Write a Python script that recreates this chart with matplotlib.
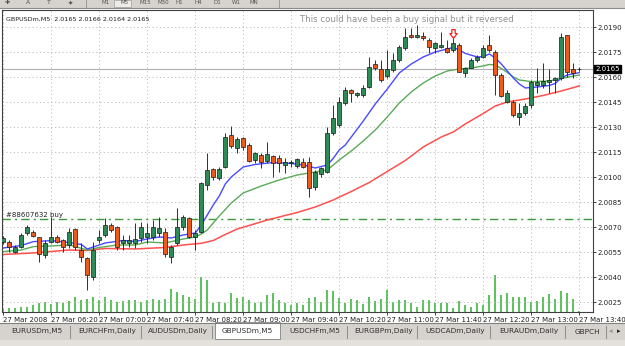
import matplotlib
matplotlib.use("Agg")
import matplotlib.pyplot as plt
import numpy as np
from matplotlib.patches import Rectangle
from matplotlib.path import Path

# ---------------- data ----------------
symbol = "GBPUSDm,M5"
header_vals = "2.0165 2.0166 2.0164 2.0165"
note = "This could have been a buy signal but it reversed"
order_label = "#88607632 buy"
order_price = 2.0075
bid_price = 2.0165

opens = [2.00612, 2.00614, 2.00554, 2.00584, 2.00664, 2.00674, 2.00642, 2.00534, 2.00612, 2.00644,
         2.00624, 2.00594, 2.00690, 2.00564, 2.00516, 2.00404, 2.00624, 2.00654, 2.00714, 2.00702,
         2.00604, 2.00604, 2.00608, 2.00634, 2.00644, 2.00644, 2.00666, 2.00672, 2.00524, 2.00606,
         2.00704, 2.00754, 2.00644, 2.00674, 2.00954, 2.01050, 2.00994, 2.01064, 2.01254, 2.01174,
         2.01234, 2.01194, 2.01104, 2.01134, 2.01098, 2.01128, 2.01114, 2.01074, 2.01084, 2.01068,
         2.01094, 2.01094, 2.00944, 2.01020, 2.01034, 2.01264, 2.01314, 2.01444, 2.01524, 2.01494,
         2.01494, 2.01544, 2.01678, 2.01650, 2.01608, 2.01644, 2.01704, 2.01774, 2.01854, 2.01840,
         2.01848, 2.01824, 2.01774, 2.01784, 2.01774, 2.01764, 2.01794, 2.01624, 2.01658, 2.01704,
         2.01724, 2.01794, 2.01754, 2.01614, 2.01454, 2.01454, 2.01364, 2.01388, 2.01434, 2.01554,
         2.01554, 2.01574, 2.01584, 2.01594, 2.01854, 2.01648, 2.0165]
highs = [2.00648, 2.00624, 2.00594, 2.00664, 2.00714, 2.00684, 2.00644, 2.00624, 2.00764, 2.00654,
         2.00630, 2.00694, 2.00694, 2.00604, 2.00524, 2.00614, 2.00684, 2.00754, 2.00724, 2.00708,
         2.00654, 2.00654, 2.00724, 2.00734, 2.00724, 2.00744, 2.00764, 2.00696, 2.00594, 2.00814,
         2.00774, 2.00764, 2.00684, 2.00974, 2.01146, 2.01056, 2.01064, 2.01264, 2.01308, 2.01244,
         2.01244, 2.01204, 2.01154, 2.01144, 2.01214, 2.01134, 2.01134, 2.01114, 2.01104, 2.01114,
         2.01114, 2.01124, 2.01044, 2.01064, 2.01304, 2.01434, 2.01484, 2.01544, 2.01530, 2.01514,
         2.01554, 2.01724, 2.01704, 2.01704, 2.01764, 2.01744, 2.01794, 2.01894, 2.01894, 2.01914,
         2.01874, 2.01834, 2.01814, 2.01874, 2.01824, 2.01834, 2.01804, 2.01664, 2.01714, 2.01734,
         2.01794, 2.01854, 2.01764, 2.01624, 2.01524, 2.01464, 2.01444, 2.01444, 2.01584, 2.01654,
         2.01684, 2.01648, 2.01604, 2.01864, 2.01854, 2.01684, 2.0166]
lows = [2.00600, 2.00554, 2.00544, 2.00576, 2.00654, 2.00642, 2.00494, 2.00516, 2.00604, 2.00604,
        2.00554, 2.00574, 2.00564, 2.00494, 2.00324, 2.00384, 2.00604, 2.00644, 2.00674, 2.00564,
        2.00564, 2.00584, 2.00574, 2.00614, 2.00604, 2.00624, 2.00644, 2.00522, 2.00486, 2.00594,
        2.00684, 2.00634, 2.00564, 2.00664, 2.00924, 2.00984, 2.00984, 2.01054, 2.01176, 2.01144,
        2.01164, 2.01094, 2.01084, 2.01054, 2.01084, 2.01002, 2.01034, 2.01024, 2.01064, 2.01054,
        2.01054, 2.00884, 2.00924, 2.01004, 2.01024, 2.01254, 2.01304, 2.01434, 2.01454, 2.01480,
        2.01484, 2.01534, 2.01644, 2.01574, 2.01596, 2.01634, 2.01694, 2.01764, 2.01834, 2.01834,
        2.01824, 2.01744, 2.01744, 2.01774, 2.01744, 2.01754, 2.01630, 2.01604, 2.01654, 2.01694,
        2.01714, 2.01754, 2.01494, 2.01484, 2.01444, 2.01364, 2.01314, 2.01374, 2.01414, 2.01504,
        2.01534, 2.01504, 2.01504, 2.01584, 2.01604, 2.01594, 2.0164]
closes = [2.00636, 2.00580, 2.00584, 2.00654, 2.00704, 2.00648, 2.00540, 2.00606, 2.00644, 2.00614,
          2.00584, 2.00674, 2.00584, 2.00524, 2.00414, 2.00564, 2.00644, 2.00714, 2.00684, 2.00580,
          2.00624, 2.00624, 2.00628, 2.00704, 2.00664, 2.00704, 2.00696, 2.00540, 2.00582, 2.00702,
          2.00764, 2.00644, 2.00668, 2.00964, 2.01044, 2.01000, 2.01050, 2.01244, 2.01188, 2.01228,
          2.01184, 2.01098, 2.01144, 2.01094, 2.01138, 2.01088, 2.01088, 2.01094, 2.01090, 2.01108,
          2.01064, 2.00934, 2.01034, 2.01054, 2.01264, 2.01354, 2.01454, 2.01524, 2.01508, 2.01504,
          2.01534, 2.01664, 2.01658, 2.01584, 2.01648, 2.01704, 2.01784, 2.01844, 2.01844, 2.01854,
          2.01836, 2.01784, 2.01804, 2.01794, 2.01754, 2.01804, 2.01634, 2.01658, 2.01704, 2.01720,
          2.01774, 2.01764, 2.01614, 2.01488, 2.01504, 2.01374, 2.01388, 2.01428, 2.01574, 2.01574,
          2.01578, 2.01584, 2.01594, 2.01844, 2.01634, 2.01628, 2.0165]
volumes = [6, 8, 8, 10, 10, 14, 18, 20, 16, 20, 18, 22,
           30, 24, 27, 31, 24, 31, 24, 21, 22, 24, 25, 21, 24, 27, 24, 27, 47, 41, 34, 31, 27,
           70, 64, 18, 20, 18, 38, 28, 30, 24, 18, 20, 34, 38, 24, 18, 14, 18,
           15, 29, 30, 20, 45, 42, 29, 19, 27, 25, 17, 30, 22, 27, 45, 20, 25, 25, 19, 11,
           24, 25, 19, 19, 19, 8, 22, 14, 11, 19, 14, 35, 75, 34, 38, 30, 30, 30, 21, 23,
           30, 37, 27, 42, 38, 27, 3]

ma_fast_idx = [0, 3, 5, 8, 11, 13, 14, 15, 17, 20, 22, 24, 26, 28, 30, 32, 33, 34, 35, 36, 37, 38, 40, 42, 45, 48, 50,
               52, 54, 55, 56, 57, 58, 60, 62, 64, 66, 68, 70, 72, 74, 75, 76, 77, 79, 80, 81, 82, 83, 84, 85, 86,
               87, 89, 91, 92, 93, 94, 96]
ma_fast = [2.00576, 2.00591, 2.00614, 2.00620, 2.00609, 2.00597, 2.00570, 2.00582, 2.00606, 2.00621, 2.00615,
           2.00630, 2.00642, 2.00636, 2.00654, 2.00666, 2.00714, 2.00774, 2.00834, 2.00888, 2.00960, 2.01002,
           2.01062, 2.01077, 2.01089, 2.01083, 2.01074, 2.01056, 2.01074, 2.01114, 2.01164, 2.01194, 2.01242,
           2.01338, 2.01440, 2.01530, 2.01626, 2.01680, 2.01722, 2.01752, 2.01770, 2.01779, 2.01764, 2.01743,
           2.01722, 2.01724, 2.01740, 2.01716, 2.01680, 2.01638, 2.01596, 2.01560, 2.01536, 2.01542, 2.01551,
           2.01563, 2.01596, 2.01614, 2.01628]
ma_mid_idx = [0, 3, 5, 8, 11, 14, 16, 19, 22, 24, 27, 30, 32, 33, 34, 35, 36, 38, 40, 43, 46, 49, 52, 54, 55, 56,
              58, 60, 62, 64, 66, 68, 70, 72, 74, 76, 78, 80, 81, 82, 83, 84, 85, 86, 88, 91, 93, 96]
ma_mid = [2.00554, 2.00564, 2.00584, 2.00588, 2.00594, 2.00564, 2.00579, 2.00594, 2.00594, 2.00612, 2.00606,
          2.00630, 2.00642, 2.00660, 2.00684, 2.00726, 2.00768, 2.00846, 2.00906, 2.00948, 2.00984, 2.01014,
          2.01032, 2.01044, 2.01074, 2.01104, 2.01158, 2.01218, 2.01284, 2.01362, 2.01446, 2.01512, 2.01566,
          2.01608, 2.01638, 2.01650, 2.01656, 2.01668, 2.01677, 2.01674, 2.01653, 2.01629, 2.01602, 2.01584,
          2.01574, 2.01578, 2.01593, 2.01614]
ma_slow_idx = [0, 5, 11, 14, 17, 22, 27, 30, 33, 35, 37, 39, 41, 44, 47, 49, 52, 55, 58, 61, 64, 67, 70, 73, 75,
               77, 80, 82, 84, 87, 90, 93, 96]
ma_slow = [2.00537, 2.00546, 2.00564, 2.00561, 2.00573, 2.00570, 2.00579, 2.00594, 2.00604, 2.00621, 2.00657,
           2.00690, 2.00711, 2.00744, 2.00771, 2.00789, 2.00822, 2.00864, 2.00915, 2.00969, 2.01035, 2.01101,
           2.01182, 2.01242, 2.01272, 2.01320, 2.01383, 2.01428, 2.01452, 2.01470, 2.01491, 2.01518, 2.01548]

time_ticks = [0, 8, 16, 24, 32, 40, 48, 56, 64, 72, 80, 88, 96]
time_labels = ["27 Mar 2008", "27 Mar 06:20", "27 Mar 07:00", "27 Mar 07:40", "27 Mar 08:20",
               "27 Mar 09:00", "27 Mar 09:40", "27 Mar 10:20", "27 Mar 11:00", "27 Mar 11:40",
               "27 Mar 12:20", "27 Mar 13:00", "27 Mar 13:40"]
price_ticks = [2.0190, 2.0175, 2.0160, 2.0145, 2.0130, 2.0115, 2.0100, 2.0085, 2.0070, 2.0055, 2.0040, 2.0025]
signal_bar = 75
signal_price = 2.01860

tabs = ["EURUSDm,M5", "EURCHFm,Daily", "AUDUSDm,Daily", "GBPUSDm,M5", "USDCHFm,M5",
        "EURGBPm,Daily", "USDCADm,Daily", "EURAUDm,Daily", "GBPCH"]
toolbar_items = ["M1", "M5", "M15", "M30", "H1", "H4", "D1", "W1", "MN"]
toolbar_icons = ["\u271a", "A", "T", "\u2726"]

# ---------------- figure ----------------
W, H = 625, 346
fig = plt.figure(figsize=(W / 100, H / 100), dpi=100)
fig.patch.set_facecolor("white")
plt.rcParams["font.family"] = ["DejaVu Sans"]

def fx(px):
    return px / W

def fy(py):
    return 1 - py / H

# top toolbar strip and bottom tabs
bg = fig.add_axes([0, 0, 1, 1], zorder=-5)
bg.set_xlim(0, W)
bg.set_ylim(H, 0)
bg.axis("off")
bg.add_patch(Rectangle((0, 0), W, 8, facecolor="#d6d3ce", edgecolor="none"))
bg.plot([0, W], [8, 8], color="#8c8c8c", lw=0.8)
for k, ic in enumerate(toolbar_icons):
    bg.text(7 + 21 * k, 3, ic, fontsize=4.5, color="#505050", va="center", ha="center")
bg.plot([86, 86], [0, 7], color="#909090", lw=0.6)
bg.plot([279, 279], [0, 7], color="#909090", lw=0.6)
bg.add_patch(Rectangle((114, 0), 17, 7, facecolor="#eeece8", edgecolor="#a0a0a0", lw=0.5))
for k, item in enumerate(toolbar_items):
    bg.text(102 + 18.5 * k, 3, item, fontsize=4, color="#555555", va="center", ha="left")
bg.add_patch(Rectangle((0, 323), W, 23, facecolor="#d6d3ce", edgecolor="none"))
bg.plot([0, W], [323, 323], color="#808080", lw=0.8)
bg.add_patch(Rectangle((0, 340), W, 6, facecolor="#e4e1dc", edgecolor="none"))
tab_x = [3, 73, 144, 215, 283, 350, 420, 493, 568]
tab_w = [67, 68, 68, 65, 64, 67, 70, 72, 38]
for i, (t, x0, w) in enumerate(zip(tabs, tab_x, tab_w)):
    if t == symbol:
        bg.add_patch(Rectangle((x0, 322), w, 17, facecolor="white", edgecolor="#808080", lw=0.6))
    else:
        bg.plot([x0 + w, x0 + w], [326, 338], color="#808080", lw=0.6)
    bg.text(x0 + w / 2, 331.5, t, fontsize=5.3, color="#303030", ha="center", va="center")
bg.text(611, 331.5, "\u25c2", fontsize=5, color="#909090", ha="center", va="center")
bg.text(619, 331.5, "\u25b8", fontsize=5, color="#202020", ha="center", va="center")

# main chart axes
left_px, right_px, top_px, bot_px = 2, 593, 10, 312
ax = fig.add_axes([fx(left_px), fy(bot_px), fx(right_px - left_px), (bot_px - top_px) / H])
n = len(opens)
idx = np.arange(n)
ppx = 0.00006
ax.set_ylim(2.0190 - (bot_px - 27.3) * ppx, 2.0190 + (27.3 - top_px) * ppx)
ax.set_xlim((left_px - 3.3) / 6, (right_px - 3.3) / 6)

# volumes on twin axis (drawn behind price)
axv = ax.twinx()
axv.set_ylim(0, 2 * (bot_px - top_px))
axv.vlines(idx, 0, volumes, color="#2fb02f", lw=1.1)
axv.axis("off")
ax.set_zorder(axv.get_zorder() + 1)
ax.patch.set_visible(False)

# grid
for t in time_ticks:
    ax.axvline(t, color="#b8b8b8", lw=0.6, ls=(0, (1.5, 3)), zorder=0)
for p in price_ticks:
    ax.axhline(p, color="#b8b8b8", lw=0.6, ls=(0, (1.5, 3)), zorder=0)

# bid line and order line
ax.axhline(bid_price, color="#b0b0b0", lw=0.8, zorder=1)
ax.axhline(order_price, color="#3c9a3c", lw=1.0, ls=(0, (6, 3, 1.5, 3)), zorder=1)
ax.text(0.4, order_price + 0.00004, order_label, fontsize=5, color="#202020", va="bottom", ha="left")

# moving averages
ax.plot(ma_slow_idx, ma_slow, color="#ff5050", lw=1.1, zorder=2)
ax.plot(ma_mid_idx, ma_mid, color="#5aaa5a", lw=1.0, zorder=2)
ax.plot(ma_fast_idx, ma_fast, color="#4a4aff", lw=1.0, zorder=2)

# candles
o = np.array(opens); h = np.array(highs); l = np.array(lows); c = np.array(closes)
ax.vlines(idx, l, h, color="#303030", lw=0.7, zorder=3)
up = c >= o
body_lo = np.minimum(o, c)
body_h = np.maximum(np.abs(c - o), 0.00002)
ax.bar(idx[up], body_h[up], bottom=body_lo[up], width=0.62, color="#2e8b57",
       edgecolor="#1a1a1a", lw=0.5, zorder=4)
ax.bar(idx[~up], body_h[~up], bottom=body_lo[~up], width=0.62, color="#ee5a1c",
       edgecolor="#1a1a1a", lw=0.5, zorder=4)

# signal arrow (hollow)
arrow = Path([(-0.35, 1), (0.35, 1), (0.35, 0.2), (0.75, 0.2), (0, -0.8), (-0.75, 0.2), (-0.35, 0.2), (-0.35, 1)],
             [Path.MOVETO] + [Path.LINETO] * 6 + [Path.CLOSEPOLY])
ax.plot([signal_bar], [signal_price], marker=arrow, ms=7, mfc="white", mec="#ff2020", mew=0.9, zorder=5)

# header and note
ax.text(0.006, 0.978, f"{symbol}  {header_vals}", transform=ax.transAxes, fontsize=4.6, color="#202020",
        va="top", ha="left")
ax.text(0.505, 0.983, note, transform=ax.transAxes, fontsize=6.2, color="#909090", va="top", ha="left")

# axes styling
for s in ax.spines.values():
    s.set_color("#404040")
    s.set_linewidth(0.8)
ax.yaxis.tick_right()
ax.set_yticks(price_ticks)
ax.set_yticklabels([f"{p:.4f}" for p in price_ticks])
ax.tick_params(axis="y", labelsize=5, length=2, width=0.6, pad=1.5, colors="#202020")
ax.set_xticks(time_ticks)
ax.set_xticklabels(time_labels)
ax.tick_params(axis="x", labelsize=5, length=2, width=0.6, pad=1.5, colors="#202020")
for lbl in ax.get_xticklabels():
    lbl.set_horizontalalignment("left")

# current price box
ax.text(1.004, bid_price, f"{bid_price:.4f}", transform=ax.get_yaxis_transform(), fontsize=5,
        color="white", va="center", ha="left",
        bbox=dict(boxstyle="square,pad=0.15", facecolor="black", edgecolor="black"))

fig.savefig("out.png", dpi=100, facecolor=fig.get_facecolor())
